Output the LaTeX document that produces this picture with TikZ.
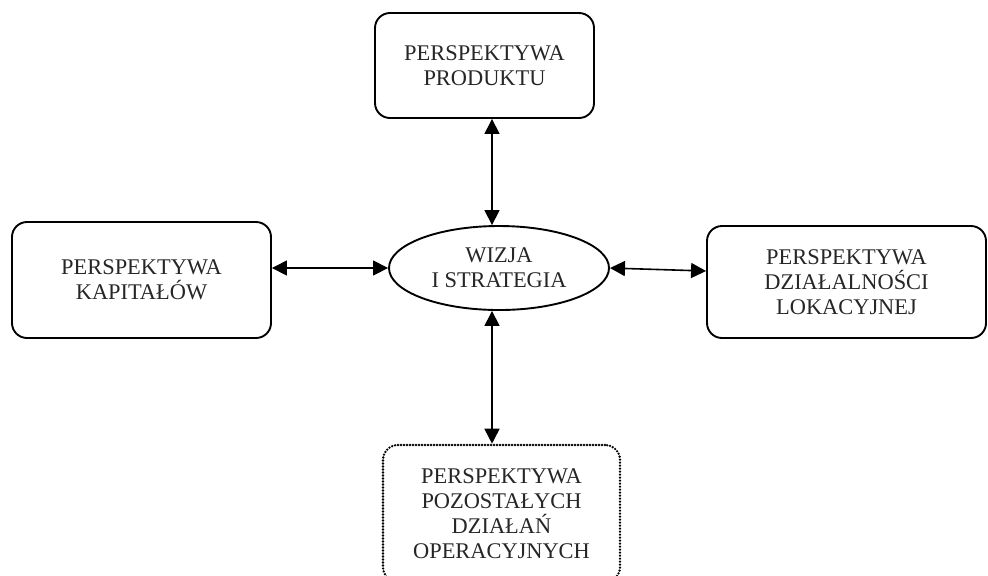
\documentclass[tikz,border=0pt]{standalone}
\usepackage{fontspec}
\setmainfont{Liberation Serif}
\usetikzlibrary{shapes.geometric,arrows.meta}
\begin{document}
\begin{tikzpicture}[x=0.5pt,y=-0.5pt,
  every node/.style={font=\fontsize{11.2}{12.6}\selectfont, align=center, text=black!85},
  boxnode/.style={draw, rectangle, rounded corners=7.5pt, line width=0.95pt, inner sep=0pt},
  dotbox/.style={draw, rectangle, rounded corners=7.5pt, line width=1.3pt, line cap=round, dash pattern=on 0pt off 1.5pt, inner sep=0pt},
  ovalnode/.style={draw, ellipse, line width=0.95pt, inner sep=0pt, minimum width=110pt, minimum height=42pt},
  link/.style={line width=0.8pt, {Triangle[length=7.5pt,width=7.5pt]}-{Triangle[length=7.5pt,width=7.5pt]}}]
\useasboundingbox (0,0) rectangle (988,575);
\clip (0,0) rectangle (988,575);
\fill[white] (0,0) rectangle (988,575);
\node[boxnode, minimum width=109.5pt, minimum height=52.5pt] (top) at (484.5,65.5) {PERSPEKTYWA\\PRODUKTU};
\node[boxnode, minimum width=129.5pt, minimum height=58pt] (left) at (141.5,280) {PERSPEKTYWA\\KAPITAŁÓW};
\node[boxnode, minimum width=139.5pt, minimum height=56pt] (right) at (846.5,282) {PERSPEKTYWA\\DZIAŁALNOŚCI\\LOKACYJNEJ};
\node[ovalnode] (wiz) at (499,268) {WIZJA\\I STRATEGIA};
\node[dotbox, minimum width=118.5pt, minimum height=68.5pt] (bot) at (501.5,513.5) {PERSPEKTYWA\\POZOSTAŁYCH\\DZIAŁAŃ\\OPERACYJNYCH};
\coordinate (axis) at (492,0);
\draw[link] (top.south -| axis) -- (wiz.north -| axis);
\draw[link] (wiz.south -| axis) -- (bot.north -| axis);
\draw[link] (left.east |- wiz.west) -- (wiz.west);
\draw[link] (wiz.east) -- ([yshift=5.5pt]right.west);
\end{tikzpicture}
\end{document}
